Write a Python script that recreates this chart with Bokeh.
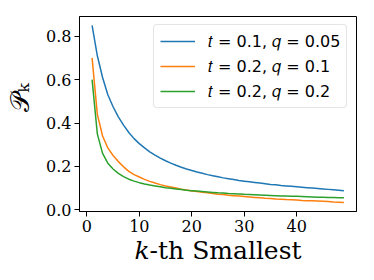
from bokeh.plotting import figure
from bokeh.models import Range1d, FixedTicker, PrintfTickFormatter, Legend, LegendItem
from bokeh.embed import file_html
from bokeh.resources import INLINE

# ---- data ----
k_values = list(range(1, 50))
p_t01_q005 = [0.85, 0.71, 0.61, 0.53, 0.475, 0.428, 0.39, 0.356, 0.328, 0.305,
              0.285, 0.267, 0.252, 0.238, 0.226, 0.215, 0.205, 0.196, 0.188, 0.181,
              0.174, 0.168, 0.162, 0.157, 0.152, 0.147, 0.143, 0.139, 0.135, 0.132,
              0.129, 0.126, 0.123, 0.120, 0.117, 0.115, 0.112, 0.110, 0.108, 0.106,
              0.104, 0.102, 0.100, 0.098, 0.096, 0.094, 0.092, 0.090, 0.088]
p_t02_q01 = [0.70, 0.44, 0.34, 0.285, 0.25, 0.222, 0.198, 0.177, 0.162, 0.151,
             0.140, 0.131, 0.123, 0.116, 0.110, 0.105, 0.100, 0.095, 0.091, 0.087,
             0.084, 0.081, 0.078, 0.075, 0.072, 0.070, 0.067, 0.065, 0.063, 0.061,
             0.059, 0.057, 0.055, 0.053, 0.052, 0.050, 0.049, 0.047, 0.046, 0.045,
             0.043, 0.042, 0.041, 0.040, 0.039, 0.038, 0.036, 0.035, 0.034]
p_t02_q02 = [0.60, 0.35, 0.26, 0.215, 0.188, 0.168, 0.153, 0.141, 0.132, 0.125,
             0.119, 0.114, 0.110, 0.106, 0.102, 0.099, 0.096, 0.093, 0.090, 0.088,
             0.086, 0.084, 0.082, 0.080, 0.078, 0.077, 0.075, 0.074, 0.073, 0.071,
             0.070, 0.069, 0.068, 0.067, 0.066, 0.065, 0.064, 0.063, 0.062, 0.062,
             0.061, 0.060, 0.059, 0.058, 0.058, 0.057, 0.056, 0.055, 0.055]
series_labels = ["𝑡 = 0.1, 𝑞 = 0.05", "𝑡 = 0.2, 𝑞 = 0.1", "𝑡 = 0.2, 𝑞 = 0.2"]
series_colors = ["#1f77b4", "#ff7f0e", "#2ca02c"]
x_ticks = [0, 10, 20, 30, 40]
y_ticks = [0.0, 0.2, 0.4, 0.6, 0.8]
x_label = "𝑘-th Smallest"
y_label = "\u00a0\u00a0\u00a0\u00a0𝒫ₖ"

X0, X1 = -1.4, 51.4
Y0, Y1 = -0.008, 0.891

p = figure(width=374, height=280, output_backend="svg", toolbar_location=None,
           x_range=Range1d(X0, X1), y_range=Range1d(Y0, Y1),
           min_border_left=79, min_border_right=18, min_border_top=16, min_border_bottom=69)
p.background_fill_color = "white"
p.border_fill_color = "white"
p.grid.visible = False
p.outline_line_color = "black"
p.outline_line_width = 1
p.outline_line_alpha = 1

for ax in (p.xaxis[0], p.yaxis[0]):
    ax.axis_line_color = "black"
    ax.major_tick_line_color = "black"
    ax.major_tick_out = 5
    ax.major_tick_in = 0
    ax.minor_tick_line_color = None
    ax.major_label_text_font = "DejaVu Serif"
    ax.major_label_text_font_size = "16px"
    ax.major_label_text_color = "black"
    ax.major_label_standoff = 3
    ax.axis_label_text_font = "DejaVu Serif"
    ax.axis_label_text_font_style = "normal"
    ax.axis_label_text_color = "black"
    ax.axis_label_text_font_size = "25px"
p.xaxis.ticker = FixedTicker(ticks=x_ticks)
p.yaxis.ticker = FixedTicker(ticks=y_ticks)
p.yaxis.formatter = PrintfTickFormatter(format="%.1f")
p.xaxis.axis_label = x_label
p.xaxis.axis_label_standoff = 1
p.yaxis.axis_label = y_label
p.yaxis.axis_label_text_font_size = "26px"
p.yaxis.axis_label_standoff = 8

renderers = []
for ys, c in zip([p_t01_q005, p_t02_q01, p_t02_q02], series_colors):
    r = p.line(k_values, ys, line_color=c, line_width=1.5)
    renderers.append(r)

legend = Legend(items=[LegendItem(label=l, renderers=[r]) for l, r in zip(series_labels, renderers)],
                location=(74, 103))
legend.label_text_font = "DejaVu Sans"
legend.label_text_font_size = "16px"
legend.label_text_color = "black"
legend.glyph_width = 35
legend.glyph_height = 20
legend.label_height = 20
legend.label_standoff = 13
legend.spacing = 5
legend.padding = 6
legend.margin = 0
legend.border_line_color = "#cccccc"
legend.border_line_width = 1
legend.background_fill_alpha = 0.8
try:
    legend.border_radius = 4
except Exception:
    pass
p.add_layout(legend, "center")

open("out.html", "w").write(file_html(p, INLINE))
